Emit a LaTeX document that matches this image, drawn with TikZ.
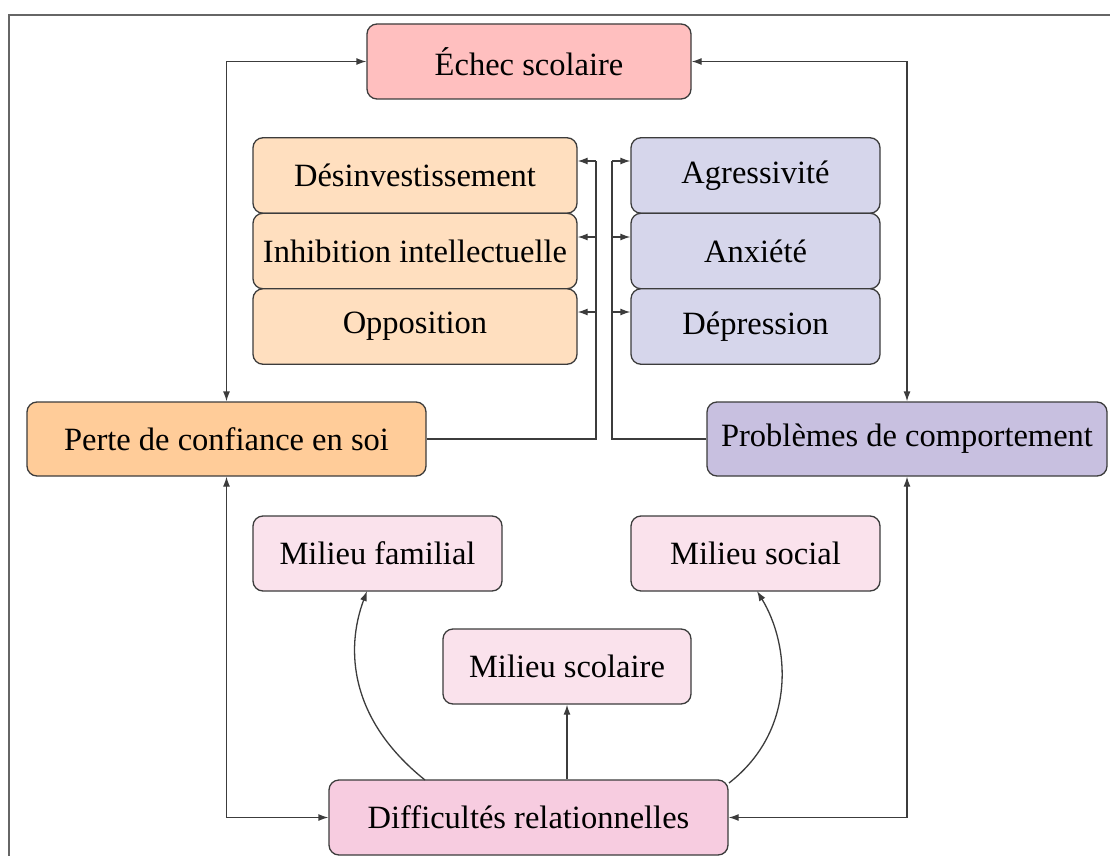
\documentclass[tikz,border=0pt]{standalone}
\usepackage{fontspec}
\setmainfont{Liberation Serif}
\usetikzlibrary{arrows.meta}
\definecolor{cEchec}{RGB}{255,191,191}
\definecolor{cOrL}{RGB}{255,223,191}
\definecolor{cLavL}{RGB}{214,214,235}
\definecolor{cPerte}{RGB}{255,204,153}
\definecolor{cProb}{RGB}{200,192,224}
\definecolor{cMil}{RGB}{250,226,236}
\definecolor{cDiff}{RGB}{247,204,224}
\definecolor{cLine}{RGB}{60,60,60}
\tikzset{
  box/.style={draw=cLine, line width=1.3pt, rounded corners=10pt, inner sep=0pt,
    font=\fontsize{32.5}{38}\selectfont, align=center},
  conn/.style={draw=cLine, line width=1.3pt, -{Latex[length=10pt,width=7pt]}},
  biconn/.style={draw=cLine, line width=1.3pt, {Latex[length=10pt,width=7pt]}-{Latex[length=10pt,width=7pt]}},
  plain/.style={draw=cLine, line width=1.3pt},
}
\begin{document}
\begin{tikzpicture}[x=1pt,y=-1pt]
\useasboundingbox (0,0) rectangle (1110,856);
\fill[white] (0,0) rectangle (1110,856);
\draw[gray!80!black, line width=2.2pt] (1110,15) -- (9,15) -- (9,856);

\node[box, fill=cEchec, minimum width=324pt, minimum height=75pt] (echec) at (529,61.5) {Échec scolaire};

\node[box, fill=cOrL, minimum width=324pt, minimum height=75.5pt] (desinv) at (415,175.5) {Désinvestissement};
\node[box, fill=cOrL, minimum width=324pt, minimum height=75.5pt] (inhib) at (415,251) {Inhibition intellectuelle};
\node[box, fill=cOrL, minimum width=324pt, minimum height=75.5pt] (oppos) at (415,326.5) {Opposition};

\node[box, fill=cLavL, minimum width=249pt, minimum height=75.5pt] (agress) at (755.5,175.5) {Agressivité};
\node[box, fill=cLavL, minimum width=249pt, minimum height=75.5pt] (anx) at (755.5,251) {Anxiété};
\node[box, fill=cLavL, minimum width=249pt, minimum height=75.5pt] (depr) at (755.5,326.5) {Dépression};

\node[box, fill=cPerte, minimum width=399pt, minimum height=74pt] (perte) at (226.5,439) {Perte de confiance en soi};
\node[box, fill=cProb, minimum width=400pt, minimum height=74pt] (prob) at (907,439) {Problèmes de comportement};

\node[box, fill=cMil, minimum width=249pt, minimum height=75pt] (famil) at (377.5,553.5) {Milieu familial};
\node[box, fill=cMil, minimum width=249pt, minimum height=75pt] (social) at (755.5,553.5) {Milieu social};
\node[box, fill=cMil, minimum width=248pt, minimum height=75pt] (scol) at (567,666.5) {Milieu scolaire};

\node[box, fill=cDiff, minimum width=399pt, minimum height=75pt] (diff) at (528.5,817.5) {Difficultés relationnelles};

% top loops
\draw[biconn] (echec.west) -| (perte.north);
\draw[biconn] (echec.east) -| (prob.north);
% bottom loops
\draw[biconn] (perte.south) |- (diff.west);
\draw[biconn] (prob.south) |- (diff.east);

% perte to left column
\coordinate (pl) at (596,439);
\draw[plain] (perte.east) -- (pl) -- (596,161);
\draw[conn] (596,161) -- (desinv.east |- 0,161);
\draw[conn] (596,237) -- (inhib.east |- 0,237);
\draw[conn] (596,312) -- (oppos.east |- 0,312);

% prob to right column
\coordinate (pr) at (612,439);
\draw[plain] (prob.west) -- (pr) -- (612,161);
\draw[conn] (612,161) -- (agress.west |- 0,161);
\draw[conn] (612,237) -- (anx.west |- 0,237);
\draw[conn] (612,312) -- (depr.west |- 0,312);

% milieux
\coordinate (dl) at (425,780);
\coordinate (dr) at (729,783);
\coordinate (fl) at (367,591);
\coordinate (sr) at (757,591);
\draw[conn] (diff.north -| scol) -- (scol.south);
\draw[conn] (dl) .. controls (350,720) and (345,650) .. (fl);
\draw[conn] (dr) .. controls (797,730) and (790,645) .. (sr);
\end{tikzpicture}
\end{document}
